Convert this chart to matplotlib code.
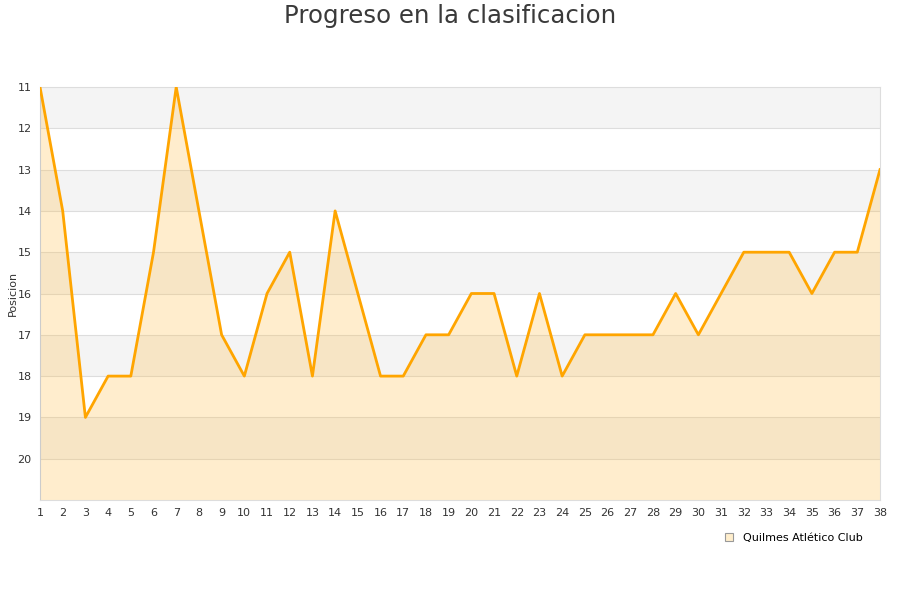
import matplotlib.pyplot as plt
from matplotlib.patches import Rectangle
from matplotlib.lines import Line2D

# Datos de posiciones por jornada
jornadas = list(range(1, 39))
posiciones = [11, 14, 19, 18, 18, 15, 11, 14, 17, 18,
              16, 15, 18, 14, 16, 18, 18, 17, 17, 16,
              16, 18, 16, 18, 17, 17, 17, 17, 16, 17,
              16, 15, 15, 15, 16, 15, 15, 13]
equipo = 'Quilmes Atlético Club'
titulo = 'Progreso en la clasificacion'

fig = plt.figure(figsize=(9, 6), dpi=100)
ax = fig.add_axes([40 / 900, 1 - 500 / 600, 840 / 900, 413 / 600])

# Bandas alternas grises
for y0 in range(11, 21, 2):
    ax.add_patch(Rectangle((1, y0), 37, 1, facecolor='#f4f4f4', edgecolor='none', zorder=0))
for y in range(12, 21):
    ax.axhline(y, color='#dddddd', lw=0.8, zorder=1)

ax.fill_between(jornadas, posiciones, 21, color='#ffc04d', alpha=0.28, lw=0, zorder=2)
ax.plot(jornadas, posiciones, color='#ffa500', lw=2, zorder=3)

ax.set_xlim(1, 38)
ax.set_ylim(21, 11)
ax.set_xticks(jornadas)
ax.set_yticks(range(11, 21))
ax.tick_params(labelsize=8, colors='#333333', length=0, pad=6)
for s in ax.spines.values():
    s.set_color('#dddddd')
ax.spines['left'].set_color('#cccccc')

ax.set_ylabel('Posicion', fontsize=8, color='#333333', labelpad=0)
fig.text(0.5, 0.974, titulo, ha='center', va='center', fontsize=17.6, color='#3a3a3a')

handle = Line2D([], [], marker='s', ls='none', markersize=6,
                markerfacecolor='#ffeecc', markeredgecolor='#999999', markeredgewidth=0.8)
fig.legend([handle], [equipo], loc='center left', bbox_to_anchor=(0.786, 0.103),
           frameon=False, fontsize=8, handletextpad=0.3)

fig.savefig('out.png', dpi=100)
